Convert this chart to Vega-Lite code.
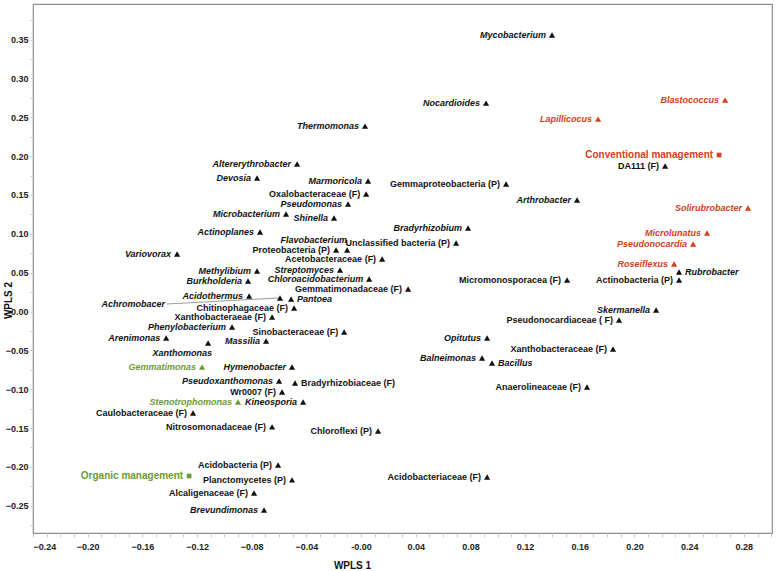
{
  "$schema": "https://vega.github.io/schema/vega-lite/v6.json",
  "width": 739,
  "height": 529,
  "autosize": {"type": "none"},
  "padding": {"left": 33, "top": 4, "right": 5, "bottom": 38},
  "background": "white",
  "config": {
    "view": {"stroke": "#8c8c8c", "strokeWidth": 1.2},
    "text": {"font": "Liberation Sans", "fontWeight": "bold", "fontSize": 9, "baseline": "middle"},
    "axis": {"labelFont": "Liberation Sans", "titleFont": "Liberation Sans"}
  },
  "datasets": {
    "taxa": [
      {"name": "Thermomonas", "x": 0.0029, "y": 0.2387, "g": "N", "rank": "genus", "pos": "L"},
      {"name": "Altererythrobacter", "x": -0.0468, "y": 0.1899, "g": "N", "rank": "genus", "pos": "L"},
      {"name": "Devosia", "x": -0.0761, "y": 0.1718, "g": "N", "rank": "genus", "pos": "L"},
      {"name": "Marmoricola", "x": 0.0051, "y": 0.1680, "g": "N", "rank": "genus", "pos": "L"},
      {"name": "Mycobacterium", "x": 0.1397, "y": 0.3559, "g": "N", "rank": "genus", "pos": "L"},
      {"name": "Nocardioides", "x": 0.0914, "y": 0.2683, "g": "N", "rank": "genus", "pos": "L"},
      {"name": "Blastococcus", "x": 0.2663, "y": 0.2722, "g": "C", "rank": "genus", "pos": "L"},
      {"name": "Lapillicocus", "x": 0.1734, "y": 0.2477, "g": "C", "rank": "genus", "pos": "L"},
      {"name": "Pseudomonas", "x": -0.0095, "y": 0.1384, "g": "N", "rank": "genus", "pos": "L"},
      {"name": "Microbacterium", "x": -0.0549, "y": 0.1255, "g": "N", "rank": "genus", "pos": "L"},
      {"name": "Shinella", "x": -0.0198, "y": 0.1203, "g": "N", "rank": "genus", "pos": "L"},
      {"name": "Actinoplanes", "x": -0.0739, "y": 0.1023, "g": "N", "rank": "genus", "pos": "L"},
      {"name": "Variovorax", "x": -0.1346, "y": 0.0740, "g": "N", "rank": "genus", "pos": "L"},
      {"name": "Flavobacterium", "x": -0.0102, "y": 0.0792, "g": "N", "rank": "genus", "pos": "A"},
      {"name": "Methylibium", "x": -0.0761, "y": 0.0521, "g": "N", "rank": "genus", "pos": "L"},
      {"name": "Streptomyces", "x": -0.0154, "y": 0.0534, "g": "N", "rank": "genus", "pos": "L"},
      {"name": "Burkholderia", "x": -0.0827, "y": 0.0393, "g": "N", "rank": "genus", "pos": "L"},
      {"name": "Chloroacidobacterium", "x": 0.0059, "y": 0.0418, "g": "N", "rank": "genus", "pos": "L"},
      {"name": "Acidothermus", "x": -0.0819, "y": 0.0199, "g": "N", "rank": "genus", "pos": "L"},
      {"name": "Achromobacer", "x": -0.0593, "y": 0.0174, "g": "N", "rank": "genus", "pos": "lead"},
      {"name": "Pantoea", "x": -0.0512, "y": 0.0161, "g": "N", "rank": "genus", "pos": "R"},
      {"name": "Phenylobacterium", "x": -0.0944, "y": -0.0199, "g": "N", "rank": "genus", "pos": "L"},
      {"name": "Arthrobacter", "x": 0.1580, "y": 0.1435, "g": "N", "rank": "genus", "pos": "L"},
      {"name": "Solirubrobacter", "x": 0.2831, "y": 0.1332, "g": "C", "rank": "genus", "pos": "L"},
      {"name": "Bradyrhizobium", "x": 0.0783, "y": 0.1075, "g": "N", "rank": "genus", "pos": "L"},
      {"name": "Microlunatus", "x": 0.2531, "y": 0.1010, "g": "C", "rank": "genus", "pos": "L"},
      {"name": "Pseudonocardia", "x": 0.2429, "y": 0.0869, "g": "C", "rank": "genus", "pos": "L"},
      {"name": "Roseiflexus", "x": 0.2290, "y": 0.0611, "g": "C", "rank": "genus", "pos": "L"},
      {"name": "Rubrobacter", "x": 0.2326, "y": 0.0508, "g": "N", "rank": "genus", "pos": "R"},
      {"name": "Skermanella", "x": 0.2158, "y": 0.0019, "g": "N", "rank": "genus", "pos": "L"},
      {"name": "Opitutus", "x": 0.0922, "y": -0.0341, "g": "N", "rank": "genus", "pos": "L"},
      {"name": "Arenimonas", "x": -0.1426, "y": -0.0341, "g": "N", "rank": "genus", "pos": "L"},
      {"name": "Xanthomonas", "x": -0.1119, "y": -0.0405, "g": "N", "rank": "genus", "pos": "B"},
      {"name": "Massilia", "x": -0.0695, "y": -0.0380, "g": "N", "rank": "genus", "pos": "L"},
      {"name": "Gemmatimonas", "x": -0.1163, "y": -0.0714, "g": "O", "rank": "genus", "pos": "L"},
      {"name": "Hymenobacter", "x": -0.0505, "y": -0.0714, "g": "N", "rank": "genus", "pos": "L"},
      {"name": "Pseudoxanthomonas", "x": -0.0600, "y": -0.0894, "g": "N", "rank": "genus", "pos": "L"},
      {"name": "Stenotrophomonas", "x": -0.0900, "y": -0.1165, "g": "O", "rank": "genus", "pos": "L"},
      {"name": "Kineosporia", "x": -0.0424, "y": -0.1165, "g": "N", "rank": "genus", "pos": "L"},
      {"name": "Balneimonas", "x": 0.0885, "y": -0.0598, "g": "N", "rank": "genus", "pos": "L"},
      {"name": "Bacillus", "x": 0.0958, "y": -0.0663, "g": "N", "rank": "genus", "pos": "R"},
      {"name": "Brevundimonas", "x": -0.0710, "y": -0.2555, "g": "N", "rank": "genus", "pos": "L"},
      {"name": "Oxalobacteraceae  (F)", "x": 0.0037, "y": 0.1512, "g": "N", "rank": "higher", "pos": "L"},
      {"name": "DA111 (F)", "x": 0.2224, "y": 0.1873, "g": "N", "rank": "higher", "pos": "L"},
      {"name": "Gemmaproteobacteria (P)", "x": 0.1061, "y": 0.1641, "g": "N", "rank": "higher", "pos": "L"},
      {"name": "Proteobacteria (P)", "x": -0.0183, "y": 0.0792, "g": "N", "rank": "higher", "pos": "L"},
      {"name": "Unclassified bacteria (P)", "x": 0.0695, "y": 0.0882, "g": "N", "rank": "higher", "pos": "L"},
      {"name": "Acetobacteraceae (F)", "x": 0.0154, "y": 0.0676, "g": "N", "rank": "higher", "pos": "L"},
      {"name": "Gemmatimonadaceae (F)", "x": 0.0344, "y": 0.0290, "g": "N", "rank": "higher", "pos": "L"},
      {"name": "Chitinophagaceae  (F)", "x": -0.0490, "y": 0.0045, "g": "N", "rank": "higher", "pos": "L"},
      {"name": "Xanthobacteraeae (F)", "x": -0.0651, "y": -0.0071, "g": "N", "rank": "higher", "pos": "L"},
      {"name": "Sinobacteraceae (F)", "x": -0.0124, "y": -0.0264, "g": "N", "rank": "higher", "pos": "L"},
      {"name": "Micromonosporacea (F)", "x": 0.1507, "y": 0.0405, "g": "N", "rank": "higher", "pos": "L"},
      {"name": "Actinobacteria (P)", "x": 0.2326, "y": 0.0405, "g": "N", "rank": "higher", "pos": "L"},
      {"name": "Pseudonocardiaceae ( F)", "x": 0.1887, "y": -0.0109, "g": "N", "rank": "higher", "pos": "L"},
      {"name": "Bradyrhizobiaceae (F)", "x": -0.0483, "y": -0.0920, "g": "N", "rank": "higher", "pos": "R"},
      {"name": "Wr0007 (F)", "x": -0.0578, "y": -0.1036, "g": "N", "rank": "higher", "pos": "L"},
      {"name": "Caulobacteraceae (F)", "x": -0.1229, "y": -0.1306, "g": "N", "rank": "higher", "pos": "L"},
      {"name": "Nitrosomonadaceae  (F)", "x": -0.0651, "y": -0.1486, "g": "N", "rank": "higher", "pos": "L"},
      {"name": "Chloroflexi  (P)", "x": 0.0124, "y": -0.1538, "g": "N", "rank": "higher", "pos": "L"},
      {"name": "Xanthobacteraceae (F)", "x": 0.1843, "y": -0.0483, "g": "N", "rank": "higher", "pos": "L"},
      {"name": "Anaerolineaceae (F)", "x": 0.1653, "y": -0.0972, "g": "N", "rank": "higher", "pos": "L"},
      {"name": "Acidobacteria (P)", "x": -0.0607, "y": -0.1976, "g": "N", "rank": "higher", "pos": "L"},
      {"name": "Planctomycetes (P)", "x": -0.0505, "y": -0.2168, "g": "N", "rank": "higher", "pos": "L"},
      {"name": "Alcaligenaceae  (F)", "x": -0.0783, "y": -0.2336, "g": "N", "rank": "higher", "pos": "L"},
      {"name": "Acidobacteriaceae (F)", "x": 0.0922, "y": -0.2130, "g": "N", "rank": "higher", "pos": "L"}
    ],
    "management": [
      {"name": "Conventional management", "x": 0.2619, "y": 0.2014, "g": "C"},
      {"name": "Organic management", "x": -0.1258, "y": -0.2117, "g": "O"}
    ],
    "leader": [
      {"name": "Achromobacer", "x": -0.0599, "y": 0.0174, "lx": -0.1419, "ly": 0.0097}
    ]
  },
  "layer": [
    {
      "mark": {"type": "rule", "color": "#e4e4e4", "strokeWidth": 1},
      "encoding": {
        "x": {"datum": 0, "type": "quantitative", "scale": {"domain": [-0.24, 0.3006], "nice": false, "zero": false},
          "axis": {"orient": "bottom", "values": [-0.24,-0.23,-0.22,-0.21,-0.2,-0.19,-0.18,-0.17,-0.16,-0.15,-0.14,-0.13,-0.12,-0.11,-0.1,-0.09,-0.08,-0.07,-0.06,-0.05,-0.04,-0.03,-0.02,-0.01,0,0.01,0.02,0.03,0.04,0.05,0.06,0.07,0.08,0.09,0.1,0.11,0.12,0.13,0.14,0.15,0.16,0.17,0.18,0.19,0.2,0.21,0.22,0.23,0.24,0.25,0.26,0.27,0.28,0.29,0.3],
            "labels": false, "grid": false, "domain": false, "ticks": true, "tickSize": 4, "tickColor": "#c8c8c8", "title": null}}
      }
    },
    {
      "mark": {"type": "rule", "color": "#e4e4e4", "strokeWidth": 1},
      "encoding": {
        "y": {"datum": 0, "type": "quantitative", "scale": {"domain": [-0.2851, 0.3958], "nice": false, "zero": false},
          "axis": {"orient": "left", "values": [-0.275,-0.25,-0.225,-0.2,-0.175,-0.15,-0.125,-0.1,-0.075,-0.05,-0.025,0,0.025,0.05,0.075,0.1,0.125,0.15,0.175,0.2,0.225,0.25,0.275,0.3,0.325,0.35,0.375],
            "labels": false, "grid": false, "domain": false, "ticks": true, "tickSize": 3, "tickColor": "#c8c8c8", "title": null}}
      }
    },
    {
      "data": {"name": "leader"},
      "mark": {"type": "rule", "color": "#9a9a9a", "strokeWidth": 1},
      "encoding": {
        "x": {"field": "lx", "type": "quantitative", "axis": null},
        "y": {"field": "ly", "type": "quantitative", "axis": null},
        "x2": {"field": "x"},
        "y2": {"field": "y"}
      }
    },
    {
      "data": {"name": "leader"},
      "mark": {"type": "text", "align": "right", "dx": -2, "fontStyle": "italic", "color": "#111"},
      "encoding": {
        "x": {"field": "lx", "type": "quantitative", "axis": null},
        "y": {"field": "ly", "type": "quantitative", "axis": null},
        "text": {"field": "name"}
      }
    },
    {
      "data": {"name": "taxa"},
      "mark": {"type": "point", "shape": "triangle-up", "filled": true, "size": 38, "opacity": 1},
      "encoding": {
        "x": {"field": "x", "type": "quantitative",
          "axis": {"orient": "bottom", "values": [-0.24,-0.2,-0.16,-0.12,-0.08,-0.04,0,0.04,0.08,0.12,0.16,0.2,0.24,0.28],
            "labelExpr": "datum.value == 0 ? '-0.00' : format(datum.value, '.2f')",
            "ticks": false, "grid": false, "domain": false, "labelPadding": 9, "labelFontSize": 9, "labelFontWeight": "bold", "labelColor": "#222",
            "title": "WPLS 1", "titleFontSize": 10, "titleFontWeight": "bold", "titleColor": "#111", "titleX": 319, "titleY": 32, "titleAlign": "center", "titleBaseline": "middle"}},
        "y": {"field": "y", "type": "quantitative",
          "axis": {"orient": "left", "values": [-0.25,-0.2,-0.15,-0.1,-0.05,0,0.05,0.1,0.15,0.2,0.25,0.3,0.35],
            "labelExpr": "datum.value == 0 ? '-0.00' : format(datum.value, '.2f')",
            "ticks": false, "grid": false, "domain": false, "labelPadding": 5, "labelFontSize": 9, "labelFontWeight": "bold", "labelColor": "#222",
            "title": "WPLS 2", "titleFontSize": 10, "titleFontWeight": "bold", "titleColor": "#111", "titleX": -25, "titleY": 296, "titleAlign": "center", "titleBaseline": "middle", "titleAngle": -90}},
        "color": {"field": "g", "type": "nominal", "scale": {"domain": ["C", "O", "N"], "range": ["#d4401c", "#6a9a35", "#111111"]}, "legend": null}
      }
    },
    {
      "data": {"name": "taxa"},
      "transform": [{"filter": "datum.pos == 'L' && datum.rank == 'genus'"}],
      "mark": {"type": "text", "align": "right", "dx": -6, "fontStyle": "italic"},
      "encoding": {
        "x": {"field": "x", "type": "quantitative", "axis": null},
        "y": {"field": "y", "type": "quantitative", "axis": null},
        "text": {"field": "name"},
        "color": {"field": "g", "type": "nominal", "legend": null}
      }
    },
    {
      "data": {"name": "taxa"},
      "transform": [{"filter": "datum.pos == 'L' && datum.rank == 'higher'"}],
      "mark": {"type": "text", "align": "right", "dx": -6},
      "encoding": {
        "x": {"field": "x", "type": "quantitative", "axis": null},
        "y": {"field": "y", "type": "quantitative", "axis": null},
        "text": {"field": "name"},
        "color": {"field": "g", "type": "nominal", "legend": null}
      }
    },
    {
      "data": {"name": "taxa"},
      "transform": [{"filter": "datum.pos == 'R' && datum.rank == 'genus'"}],
      "mark": {"type": "text", "align": "left", "dx": 6, "fontStyle": "italic"},
      "encoding": {
        "x": {"field": "x", "type": "quantitative", "axis": null},
        "y": {"field": "y", "type": "quantitative", "axis": null},
        "text": {"field": "name"},
        "color": {"field": "g", "type": "nominal", "legend": null}
      }
    },
    {
      "data": {"name": "taxa"},
      "transform": [{"filter": "datum.pos == 'R' && datum.rank == 'higher'"}],
      "mark": {"type": "text", "align": "left", "dx": 6},
      "encoding": {
        "x": {"field": "x", "type": "quantitative", "axis": null},
        "y": {"field": "y", "type": "quantitative", "axis": null},
        "text": {"field": "name"},
        "color": {"field": "g", "type": "nominal", "legend": null}
      }
    },
    {
      "data": {"name": "taxa"},
      "transform": [{"filter": "datum.pos == 'A'"}],
      "mark": {"type": "text", "align": "right", "dx": 0, "dy": -10, "fontStyle": "italic"},
      "encoding": {
        "x": {"field": "x", "type": "quantitative", "axis": null},
        "y": {"field": "y", "type": "quantitative", "axis": null},
        "text": {"field": "name"},
        "color": {"field": "g", "type": "nominal", "legend": null}
      }
    },
    {
      "data": {"name": "taxa"},
      "transform": [{"filter": "datum.pos == 'B'"}],
      "mark": {"type": "text", "align": "right", "dx": 4, "dy": 10, "fontStyle": "italic"},
      "encoding": {
        "x": {"field": "x", "type": "quantitative", "axis": null},
        "y": {"field": "y", "type": "quantitative", "axis": null},
        "text": {"field": "name"},
        "color": {"field": "g", "type": "nominal", "legend": null}
      }
    },
    {
      "data": {"name": "management"},
      "mark": {"type": "square", "size": 22, "opacity": 1},
      "encoding": {
        "x": {"field": "x", "type": "quantitative", "axis": null},
        "y": {"field": "y", "type": "quantitative", "axis": null},
        "color": {"field": "g", "type": "nominal", "legend": null}
      }
    },
    {
      "data": {"name": "management"},
      "mark": {"type": "text", "align": "right", "dx": -6, "fontSize": 10},
      "encoding": {
        "x": {"field": "x", "type": "quantitative", "axis": null},
        "y": {"field": "y", "type": "quantitative", "axis": null},
        "text": {"field": "name"},
        "color": {"field": "g", "type": "nominal", "legend": null}
      }
    }
  ],
  "resolve": {"axis": {"x": "independent", "y": "independent"}}
}
